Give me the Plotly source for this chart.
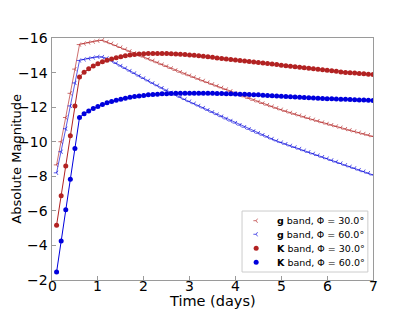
import plotly.graph_objects as go

time_days = [0.1, 0.2, 0.3, 0.4, 0.5, 0.6, 0.7, 0.8, 0.9, 1.0,
             1.1, 1.2, 1.3, 1.4, 1.5, 1.6, 1.7, 1.8, 1.9, 2.0,
             2.1, 2.2, 2.3, 2.4, 2.5, 2.6, 2.7, 2.8, 2.9, 3.0,
             3.1, 3.2, 3.3, 3.4, 3.5, 3.6, 3.7, 3.8, 3.9, 4.0,
             4.1, 4.2, 4.3, 4.4, 4.5, 4.6, 4.7, 4.8, 4.9, 5.0,
             5.1, 5.2, 5.3, 5.4, 5.5, 5.6, 5.7, 5.8, 5.9, 6.0,
             6.1, 6.2, 6.3, 6.4, 6.5, 6.6, 6.7, 6.8, 6.9, 7.0]

g_phi30 = [-8.66, -10.00, -11.40, -12.80, -14.20, -15.62, -15.68, -15.74, -15.79, -15.84,
           -15.87, -15.77, -15.67, -15.56, -15.45, -15.34, -15.23, -15.12, -15.01, -14.90,
           -14.79, -14.68, -14.57, -14.46, -14.35, -14.24, -14.13, -14.02, -13.92, -13.82,
           -13.72, -13.62, -13.52, -13.42, -13.32, -13.22, -13.12, -13.02, -12.92, -12.80,
           -12.70, -12.60, -12.50, -12.40, -12.31, -12.21, -12.12, -12.03, -11.94, -11.85,
           -11.76, -11.67, -11.59, -11.51, -11.43, -11.35, -11.27, -11.19, -11.11, -11.03,
           -10.96, -10.88, -10.81, -10.73, -10.66, -10.59, -10.52, -10.45, -10.38, -10.31]

g_phi60 = [-8.20, -9.42, -10.75, -12.07, -13.40, -14.70, -14.76, -14.82, -14.87, -14.91,
           -14.90, -14.82, -14.68, -14.53, -14.38, -14.24, -14.09, -13.95, -13.80, -13.66,
           -13.52, -13.38, -13.24, -13.10, -12.96, -12.83, -12.70, -12.57, -12.44, -12.32,
           -12.20, -12.07, -11.95, -11.82, -11.70, -11.57, -11.45, -11.32, -11.20, -11.08,
           -10.96, -10.84, -10.72, -10.60, -10.49, -10.38, -10.27, -10.16, -10.05, -9.95,
           -9.86, -9.76, -9.67, -9.58, -9.48, -9.39, -9.30, -9.20, -9.11, -9.02,
           -8.92, -8.83, -8.74, -8.64, -8.55, -8.46, -8.36, -8.27, -8.18, -8.08]

K_phi30 = [-5.17, -6.87, -8.60, -10.34, -12.06, -13.75, -14.02, -14.22, -14.38, -14.51,
           -14.62, -14.71, -14.79, -14.86, -14.92, -14.97, -15.01, -15.04, -15.07, -15.09,
           -15.10, -15.11, -15.11, -15.11, -15.10, -15.09, -15.08, -15.06, -15.04, -15.02,
           -15.00, -14.97, -14.94, -14.91, -14.88, -14.85, -14.82, -14.79, -14.76, -14.73,
           -14.70, -14.67, -14.64, -14.61, -14.58, -14.55, -14.52, -14.49, -14.46, -14.43,
           -14.40, -14.37, -14.34, -14.31, -14.28, -14.25, -14.22, -14.19, -14.16, -14.13,
           -14.10, -14.07, -14.04, -14.01, -13.99, -13.97, -13.95, -13.93, -13.91, -13.89]

K_phi60 = [-2.46, -4.26, -6.06, -7.83, -9.61, -11.40, -11.62, -11.78, -11.92, -12.04,
           -12.15, -12.25, -12.33, -12.40, -12.46, -12.52, -12.57, -12.61, -12.65, -12.68,
           -12.71, -12.73, -12.75, -12.77, -12.78, -12.79, -12.80, -12.80, -12.81, -12.81,
           -12.81, -12.81, -12.81, -12.80, -12.80, -12.79, -12.79, -12.78, -12.77, -12.76,
           -12.75, -12.74, -12.73, -12.72, -12.71, -12.69, -12.68, -12.66, -12.65, -12.63,
           -12.62, -12.60, -12.59, -12.57, -12.56, -12.54, -12.53, -12.51, -12.50, -12.49,
           -12.48, -12.47, -12.46, -12.45, -12.44, -12.43, -12.42, -12.41, -12.40, -12.39]

labels = ["<b>g</b> band, Φ = 30.0°", "<b>g</b> band, Φ = 60.0°",
          "<b>K</b> band, Φ = 30.0°", "<b>K</b> band, Φ = 60.0°"]
x_title = "Time (days)"
y_title = "Absolute Magnitude"
y_ticks = [-16, -14, -12, -10, -8, -6, -4, -2]
x_ticks = [0, 1, 2, 3, 4, 5, 6, 7]

red_light = "rgba(178,34,34,0.65)"
blue_light = "rgba(0,0,220,0.65)"
red = "#b22222"
blue = "#0000dd"

series = [
    (g_phi30, labels[0], red_light, "y-left"),
    (g_phi60, labels[1], blue_light, "y-left"),
    (K_phi30, labels[2], red, "circle"),
    (K_phi60, labels[3], blue, "circle"),
]


def marker_for(col, sym):
    if sym == "circle":
        return dict(symbol="circle", size=5, color=col, line=dict(width=0))
    return dict(symbol=sym, size=3.5, color=col, line=dict(width=1, color=col))


fig = go.Figure()
for vals, name, col, sym in series:
    fig.add_trace(go.Scatter(x=time_days, y=vals, mode="lines+markers", name=name,
                             line=dict(color=col, width=1), marker=marker_for(col, sym),
                             showlegend=False, hoverinfo="skip"))

# Hand-built legend (layout element) in plot-area fractions
leg_x0, leg_x1, leg_y0, leg_y1 = 0.592, 0.984, 0.033, 0.285
leg_marker_x = 0.636
leg_text_x = 0.695
leg_rows = [0.245, 0.189, 0.131, 0.073]

fig.add_shape(type="rect", xref="paper", yref="paper", x0=leg_x0, x1=leg_x1,
              y0=leg_y0, y1=leg_y1, line=dict(color="#cccccc", width=1),
              fillcolor="white", layer="below")
for (vals, name, col, sym), ry in zip(series, leg_rows):
    fig.add_trace(go.Scatter(x=[leg_marker_x], y=[ry], xaxis="x2", yaxis="y2",
                             mode="markers", marker=marker_for(col, sym),
                             showlegend=False, hoverinfo="skip"))
    fig.add_annotation(xref="paper", yref="paper", x=leg_text_x, y=ry, text=name,
                       showarrow=False, xanchor="left", yanchor="middle",
                       font=dict(size=9.5, color="black"))

# Tick labels as annotations anchored on the axes' own scales
tick_font = dict(size=14, color="black")
for v in x_ticks:
    fig.add_annotation(xref="x", yref="paper", x=v, y=-0.024, text=str(v),
                       showarrow=False, xanchor="center", yanchor="middle",
                       font=tick_font, borderpad=0)
for v in y_ticks:
    fig.add_annotation(xref="paper", yref="y", x=-0.006, y=v,
                       text=str(v).replace("-", "\u2212"),
                       showarrow=False, xanchor="right", yanchor="middle", font=tick_font)

# Axis titles
fig.add_annotation(xref="paper", yref="paper", x=0.5, y=-0.088, text=x_title,
                   showarrow=False, xanchor="center", yanchor="middle",
                   font=dict(size=14.5, color="black"), borderpad=0)
fig.add_annotation(xref="paper", yref="paper", x=-0.113, y=0.5, text=y_title,
                   showarrow=False, xanchor="center", yanchor="middle", textangle=-90,
                   font=dict(size=13, color="black"))

axis_common = dict(showgrid=False, zeroline=False, showline=True, mirror=True,
                   linecolor="#9a9a9a", linewidth=1, ticks="inside", ticklen=4,
                   tickcolor="#9a9a9a", showticklabels=False, automargin=False)

fig.update_layout(
    width=407, height=304,
    margin=dict(l=44, r=42, t=30, b=32),
    paper_bgcolor="white", plot_bgcolor="white",
    font=dict(family="DejaVu Sans", color="black"),
    showlegend=False,
    xaxis=dict(range=[0, 7], tickvals=x_ticks, **axis_common),
    yaxis=dict(range=[-2, -16], tickvals=y_ticks, **axis_common),
    xaxis2=dict(range=[0, 1], overlaying="x", visible=False, fixedrange=True),
    yaxis2=dict(range=[0, 1], overlaying="y", visible=False, fixedrange=True),
)

fig.write_html("out.html")
